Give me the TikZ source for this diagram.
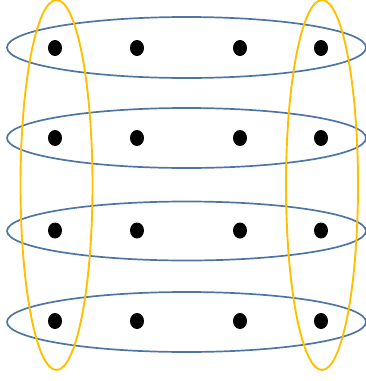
\documentclass[tikz,border=0pt]{standalone}
\definecolor{ringblue}{HTML}{4E76A4}
\definecolor{ringyellow}{HTML}{FFC000}
\usetikzlibrary{shapes.geometric}
\tikzset{
  dot/.style={fill=black, ellipse, inner sep=0pt, minimum width=14pt, minimum height=16pt},
  rowring/.style={draw=ringblue, line width=1.7pt},
  colring/.style={draw=ringyellow, line width=1.9pt}
}
\begin{document}
\begin{tikzpicture}[x=1pt,y=-1pt]
\useasboundingbox (0,0) rectangle (366,381);
% rows
\draw[rowring] (186.5,47.5) ellipse [x radius=179.5, y radius=30.5];
\draw[rowring] (186.5,138) ellipse [x radius=179.5, y radius=30];
\draw[rowring] (186.5,231) ellipse [x radius=179.5, y radius=29.5];
\draw[rowring] (186.5,322) ellipse [x radius=179.5, y radius=30];
% columns
\draw[colring] (56.5,185) ellipse [x radius=36, y radius=185];
\draw[colring] (322,185) ellipse [x radius=36, y radius=185];
% dots
\foreach \r/\y in {1/48,2/138,3/230.5,4/321}{
  \node[dot] (d\r a) at (55,\y) {};
  \node[dot] (d\r b) at (137,\y) {};
  \node[dot] (d\r c) at (240,\y) {};
  \node[dot] (d\r d) at (321,\y) {};
}
\end{tikzpicture}
\end{document}
